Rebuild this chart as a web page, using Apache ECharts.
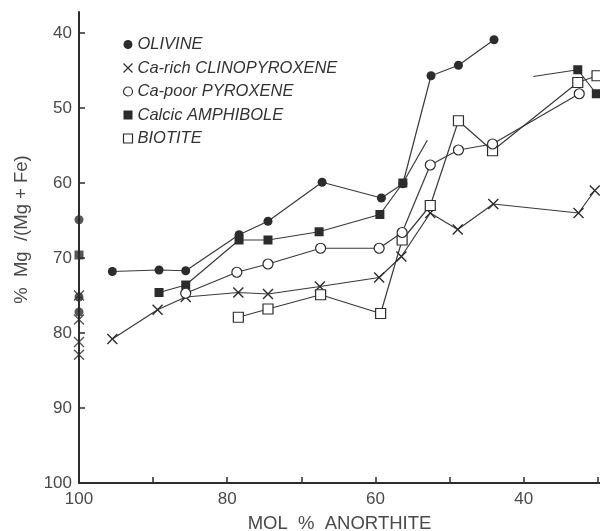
<!DOCTYPE html>
<html>
<head>
<meta charset="utf-8">
<script src="https://cdn.jsdelivr.net/npm/echarts@6/dist/echarts.min.js"></script>
<style>
  html, body { margin: 0; background: #fff; }
  #chart { width: 600px; height: 531px; }
</style>
</head>
<body>
<div id="chart"></div>
<script>
// values: [mol % anorthite, % Mg/(Mg+Fe)]
const olivineAxis = [[100, 64.9], [100, 75.2], [100, 77.2]];
const olivine = [[95.5, 71.8], [89.2, 71.6], [85.6, 71.7], [78.4, 66.9], [74.5, 65.1], [67.2, 59.9],
                 [59.2, 62.0], [56.3, 60.1], [52.5, 45.7], [48.8, 44.3], [44.0, 40.9]];

const caRichAxis = [[100, 75.0], [100, 78.2], [100, 81.2], [100, 82.9]];
const caRich = [[95.5, 80.8], [89.4, 76.9], [85.6, 75.2], [78.5, 74.6], [74.5, 74.8], [67.5, 73.8],
                [59.5, 72.6], [56.5, 69.8], [52.6, 64.0], [48.9, 66.2], [44.1, 62.8], [32.6, 64.0], [30.4, 61.0]];

const caPoor = [[85.6, 74.7], [78.7, 71.9], [74.5, 70.8], [67.4, 68.7], [59.5, 68.7], [56.4, 66.6],
                [52.6, 57.6], [48.8, 55.6], [44.2, 54.8], [32.5, 48.1]];

const amphAxis = [[100, 69.6]];
const amph = [[89.2, 74.6], [85.6, 73.6], [78.4, 67.6], [74.5, 67.6], [67.6, 66.5], [59.4, 64.2], [56.3, 60.0]];
const amphTail = [53.0, 54.3];          // line runs on without a marker
const amphUpperTail = [38.7, 45.8];
const amphUpper = [[32.7, 44.9], [30.2, 48.1]];

const biotite = [[78.5, 77.9], [74.5, 76.8], [67.4, 74.9], [59.3, 77.4], [56.4, 67.6], [52.6, 63.0],
                 [48.8, 51.7], [44.2, 55.7], [32.7, 46.6], [30.1, 45.7]];

const names = ['OLIVINE', 'Ca-rich CLINOPYROXENE', 'Ca-poor PYROXENE', 'Calcic AMPHIBOLE', 'BIOTITE'];
const xTicks = [100, 90, 80, 70, 60, 50, 40, 30];
const xLabels = [100, 80, 60, 40];
const yTicks = [40, 50, 60, 70, 80, 90, 100];

const INK = '#2c2c2c';
const LINE = '#3a3a3a';
const TEXT = '#4a4a4a';
const FONT = 'Liberation Sans, Arial, sans-serif';
const CROSS = 'path://M0,0L10,10M10,0L0,10';

// marker look per mineral
const marks = {
    'OLIVINE':               { symbol: 'circle', size: 9,  color: INK,    border: 0 },
    'Ca-rich CLINOPYROXENE': { symbol: CROSS,    size: 10, color: 'none', border: 1.4 },
    'Ca-poor PYROXENE':      { symbol: 'circle', size: 10, color: '#fff', border: 1.2 },
    'Calcic AMPHIBOLE':      { symbol: 'rect',   size: 9,  color: INK,    border: 0 },
    'BIOTITE':               { symbol: 'rect',   size: 10, color: '#fff', border: 1.2 },
};

function itemStyle(name) {
    const m = marks[name];
    return { color: m.color, borderColor: INK, borderWidth: m.border };
}

function lineSeries(name, data) {
    const m = marks[name];
    return {
        name, type: 'line', data,
        symbol: m.symbol, symbolSize: m.size, showAllSymbol: true,
        clip: false, silent: true,
        lineStyle: { color: LINE, width: 1.2 },
        itemStyle: itemStyle(name),
    };
}

function axisPoints(name, data) {
    const m = marks[name];
    return {
        name, type: 'scatter', data,
        symbol: m.symbol, symbolSize: m.size,
        clip: false, silent: true,
        itemStyle: itemStyle(name),
    };
}

const chart = echarts.init(document.getElementById('chart'), null, { renderer: 'canvas' });

chart.setOption({
    animation: false,
    backgroundColor: '#fff',
    grid: { left: 79, right: 0, top: 12, bottom: 48, outerBoundsMode: 'none', containLabel: false },
    legend: {
        orient: 'vertical',
        left: 116, top: 31,
        itemWidth: 9, itemHeight: 9, itemGap: 6.5,
        selectedMode: false,
        textStyle: { fontFamily: FONT, fontStyle: 'italic', fontSize: 16.5, color: '#333', lineHeight: 16 },
        data: names.map(n => ({
            name: n,
            icon: marks[n].symbol,
            itemStyle: Object.assign(itemStyle(n), { borderWidth: marks[n].border ? 1.2 : 0 }),
        })),
    },
    xAxis: {
        type: 'value', inverse: true, min: 29.7, max: 100,
        name: 'MOL  %  ANORTHITE', nameLocation: 'middle', nameGap: 31,
        nameTextStyle: { fontFamily: FONT, fontSize: 18.5, color: TEXT },
        axisLine: { lineStyle: { color: INK, width: 2 } },
        axisTick: { inside: true, length: 6, customValues: xTicks, lineStyle: { color: INK, width: 1.5 } },
        axisLabel: { customValues: xLabels, fontFamily: FONT, fontSize: 17, color: TEXT, margin: 8 },
        splitLine: { show: false },
    },
    yAxis: {
        type: 'value', inverse: true, min: 37.2, max: 100,
        name: '%  Mg  /(Mg + Fe)', nameLocation: 'middle', nameGap: 48,
        nameTextStyle: { fontFamily: FONT, fontSize: 18.5, color: TEXT, padding: [0, 0, 0, 36] },
        axisLine: { lineStyle: { color: INK, width: 2 } },
        axisTick: { inside: true, length: 6, customValues: yTicks, lineStyle: { color: INK, width: 1.5 } },
        axisLabel: { customValues: yTicks, fontFamily: FONT, fontSize: 17, color: TEXT, margin: 7 },
        splitLine: { show: false },
    },
    series: [
        lineSeries('Calcic AMPHIBOLE', [...amph, { value: amphTail, symbol: 'none' }]),
        lineSeries('Calcic AMPHIBOLE', [{ value: amphUpperTail, symbol: 'none' }, ...amphUpper]),
        axisPoints('Calcic AMPHIBOLE', amphAxis),
        lineSeries('OLIVINE', olivine),
        axisPoints('OLIVINE', olivineAxis),
        lineSeries('Ca-rich CLINOPYROXENE', caRich),
        axisPoints('Ca-rich CLINOPYROXENE', caRichAxis),
        lineSeries('BIOTITE', biotite),
        lineSeries('Ca-poor PYROXENE', caPoor),
    ],
});
</script>
</body>
</html>
